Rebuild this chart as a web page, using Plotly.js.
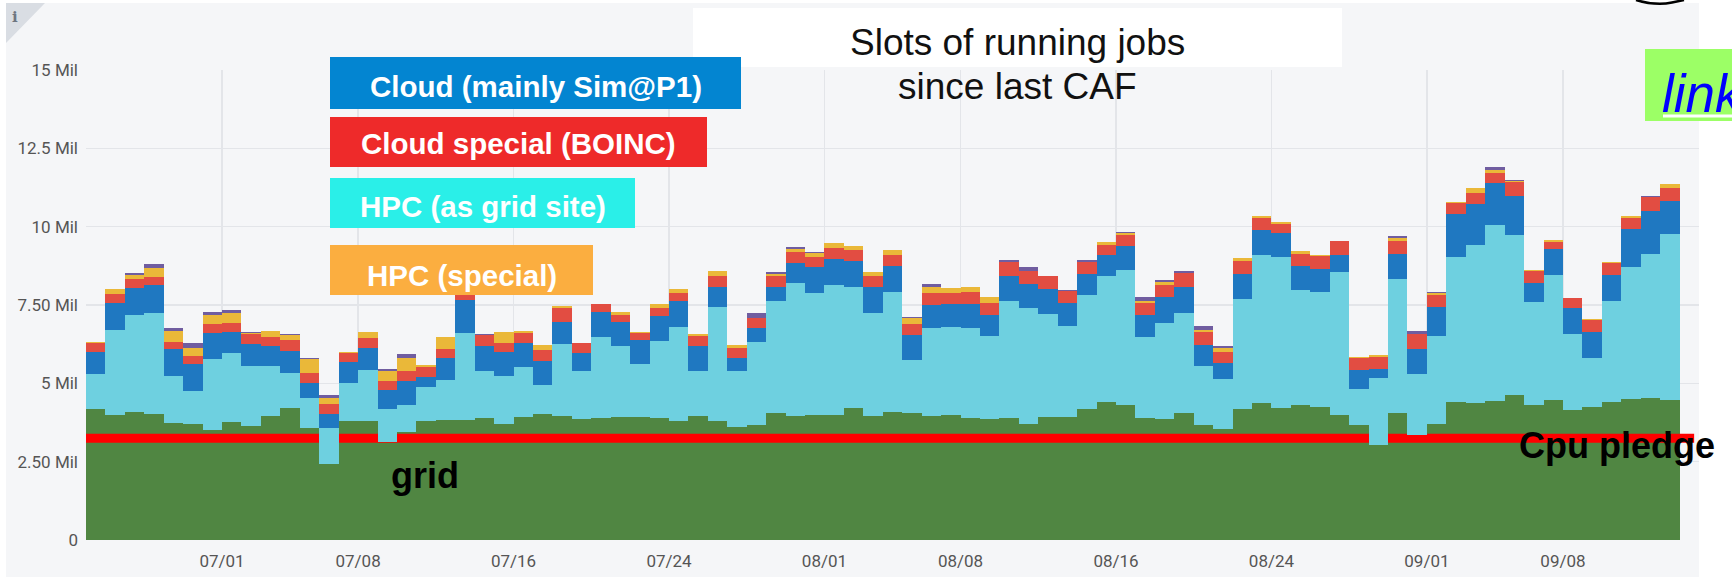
<!DOCTYPE html>
<html>
<head>
<meta charset="utf-8">
<script src="https://cdn.plot.ly/plotly-3.0.1.min.js"></script>
<style>
html,body{margin:0;padding:0;background:#ffffff;}
#chart{width:1732px;height:578px;}
</style>
</head>
<body>
<div id="chart"></div>
<script>
// ---------- data (values in millions of slots) ----------
const days = [
 '2019-06-24','2019-06-25','2019-06-26','2019-06-27','2019-06-28','2019-06-29','2019-06-30',
 '2019-07-01','2019-07-02','2019-07-03','2019-07-04','2019-07-05','2019-07-06','2019-07-07',
 '2019-07-08','2019-07-09','2019-07-10','2019-07-11','2019-07-12','2019-07-13','2019-07-14',
 '2019-07-15','2019-07-16','2019-07-17','2019-07-18','2019-07-19','2019-07-20','2019-07-21',
 '2019-07-22','2019-07-23','2019-07-24','2019-07-25','2019-07-26','2019-07-27','2019-07-28',
 '2019-07-29','2019-07-30','2019-07-31','2019-08-01','2019-08-02','2019-08-03','2019-08-04',
 '2019-08-05','2019-08-06','2019-08-07','2019-08-08','2019-08-09','2019-08-10','2019-08-11',
 '2019-08-12','2019-08-13','2019-08-14','2019-08-15','2019-08-16','2019-08-17','2019-08-18',
 '2019-08-19','2019-08-20','2019-08-21','2019-08-22','2019-08-23','2019-08-24','2019-08-25',
 '2019-08-26','2019-08-27','2019-08-28','2019-08-29','2019-08-30','2019-08-31','2019-09-01',
 '2019-09-02','2019-09-03','2019-09-04','2019-09-05','2019-09-06','2019-09-07','2019-09-08',
 '2019-09-09','2019-09-10','2019-09-11','2019-09-12','2019-09-13'
];
const grid = [
 4.18,3.99,4.08,4.02,3.74,3.70,3.52,3.76,3.65,3.95,
 4.20,3.56,2.43,3.81,3.81,3.14,3.46,3.81,3.82,3.83,
 3.89,3.70,3.93,4.01,3.95,3.85,3.90,3.91,3.94,3.90,
 3.81,3.96,3.80,3.62,3.67,4.04,3.96,3.99,3.99,4.20,
 3.96,4.07,4.06,3.96,3.99,3.90,3.85,3.90,3.70,3.91,
 3.93,4.17,4.41,4.31,3.88,3.87,4.04,3.67,3.54,4.19,
 4.36,4.20,4.31,4.26,3.99,3.67,3.03,4.04,3.35,3.70,
 4.41,4.37,4.44,4.62,4.31,4.47,4.15,4.23,4.39,4.49,
 4.52,4.47
];
const hpcGridSite = [
 1.12,2.71,3.10,3.24,1.49,1.06,2.25,2.22,1.91,1.60,
 1.12,0.96,1.13,1.19,1.62,1.04,0.85,1.06,1.29,2.77,
 1.51,1.53,1.58,0.94,2.30,1.54,2.57,2.29,1.67,2.46,
 3.00,1.44,3.65,1.78,2.66,3.60,4.23,3.88,4.15,3.89,
 3.27,3.86,1.69,2.80,2.82,2.88,2.66,3.74,3.69,3.30,
 2.90,3.65,4.03,4.31,2.61,3.07,3.19,1.88,1.59,3.49,
 4.74,4.82,3.67,3.67,4.55,1.15,2.13,4.29,1.94,2.82,
 4.63,5.05,5.61,5.11,3.28,3.99,2.41,1.57,3.24,4.21,
 4.60,5.30
];
const cloud = [
 0.69,0.87,0.87,0.87,0.86,0.86,0.85,0.65,0.69,0.65,
 0.72,0.48,0.45,0.67,0.71,0.60,0.77,0.34,0.69,1.06,
 0.79,0.78,0.79,0.77,0.72,0.59,0.80,0.77,0.78,0.80,
 0.82,0.80,0.62,0.42,0.43,0.43,0.64,0.85,0.82,0.82,
 0.83,0.80,0.78,0.74,0.72,0.75,0.67,0.80,0.78,0.79,
 0.74,0.67,0.64,0.75,0.69,0.83,0.83,0.67,0.51,0.81,
 0.78,0.77,0.75,0.71,0.55,0.59,0.29,0.80,0.81,0.93,
 1.35,1.31,1.33,1.26,0.61,0.82,0.83,0.85,0.83,1.21,
 1.38,1.06
];
const boinc = [
 0.29,0.27,0.29,0.25,0.23,0.26,0.27,0.29,0.31,0.29,
 0.34,0.32,0.32,0.29,0.30,0.28,0.32,0.32,0.30,0.30,
 0.35,0.29,0.32,0.35,0.45,0.30,0.26,0.21,0.23,0.26,
 0.25,0.31,0.34,0.30,0.32,0.36,0.35,0.32,0.35,0.35,
 0.36,0.37,0.37,0.37,0.36,0.37,0.39,0.43,0.42,0.43,
 0.37,0.39,0.34,0.37,0.37,0.37,0.45,0.41,0.37,0.42,
 0.39,0.30,0.39,0.43,0.45,0.39,0.40,0.41,0.47,0.37,
 0.37,0.34,0.32,0.45,0.40,0.22,0.32,0.37,0.39,0.37,
 0.44,0.42
];
const hpcSpecial = [
 0.05,0.16,0.11,0.30,0.35,0.25,0.30,0.32,0.06,0.18,
 0.16,0.45,0.20,0.05,0.19,0.33,0.41,0.07,0.39,0.05,
 0.00,0.33,0.05,0.14,0.04,0.00,0.00,0.11,0.02,0.11,
 0.14,0.06,0.18,0.11,0.00,0.06,0.10,0.11,0.16,0.11,
 0.14,0.16,0.18,0.19,0.14,0.17,0.19,0.00,0.00,0.00,
 0.00,0.00,0.08,0.05,0.09,0.08,0.00,0.07,0.11,0.09,
 0.07,0.07,0.09,0.02,0.00,0.05,0.05,0.09,0.00,0.07,
 0.02,0.15,0.11,0.03,0.01,0.08,0.02,0.02,0.02,0.06,
 0.00,0.11
];
const other = [
 0.00,0.00,0.08,0.12,0.10,0.16,0.10,0.10,0.02,0.00,
 0.02,0.05,0.09,0.00,0.00,0.06,0.13,0.00,0.00,0.00,
 0.05,0.00,0.00,0.00,0.00,0.00,0.00,0.00,0.00,0.00,
 0.00,0.00,0.00,0.00,0.16,0.05,0.06,0.05,0.00,0.00,
 0.00,0.00,0.05,0.11,0.00,0.00,0.00,0.07,0.11,0.00,
 0.05,0.05,0.00,0.03,0.10,0.08,0.08,0.13,0.07,0.00,
 0.00,0.00,0.00,0.00,0.00,0.00,0.00,0.07,0.11,0.04,
 0.00,0.00,0.09,0.03,0.00,0.00,0.00,0.00,0.00,0.00,
 0.05,0.00
];
const pledgeDates = ['2019-06-24 00:00', '2019-09-14 18:00'];
const pledgeValues = [3.25, 3.25];
const xTickVals = ['2019-07-01','2019-07-08','2019-07-16','2019-07-24','2019-08-01',
                   '2019-08-08','2019-08-16','2019-08-24','2019-09-01','2019-09-08'];
const xTickText = ['07/01','07/08','07/16','07/24','08/01','08/08','08/16','08/24','09/01','09/08'];
const yTickVals = [0, 2.5, 5, 7.5, 10, 12.5, 15];
const yTickText = ['0','2.50 Mil','5 Mil','7.50 Mil','10 Mil','12.5 Mil','15 Mil'];
const legendLabels = ['Cloud (mainly Sim@P1)','Cloud special (BOINC)','HPC (as grid site)','HPC (special)'];

// ---------- geometry helpers (pixel -> paper) ----------
const W = 1732, H = 578, ML = 86, MR = 33, MT = 70, MB = 38;
const PW = W - ML - MR, PH = H - MT - MB;
const px = v => (v - ML) / PW;
const py = v => (H - MB - v) / PH;

const DAY = 86400000;
function barTrace(y, color, axis, name) {
  return {
    type: 'bar', x: days, y: y, name: name, yaxis: axis,
    xperiod: DAY, xperiodalignment: 'middle', width: DAY,
    marker: {color: color, line: {width: 0}},
    hoverinfo: 'skip', showlegend: false
  };
}

const traces = [
  barTrace(grid, '#508642', 'y', 'grid'),
  {type: 'scatter', mode: 'lines', x: pledgeDates, y: pledgeValues, yaxis: 'y',
   line: {color: '#FF0000', width: 9}, hoverinfo: 'skip', showlegend: false},
  barTrace(grid, 'rgba(0,0,0,0)', 'y2', 'base'),
  barTrace(hpcGridSite, '#6ED0E0', 'y2', 'HPC (as grid site)'),
  barTrace(cloud, '#1F78C1', 'y2', 'Cloud'),
  barTrace(boinc, '#E24D42', 'y2', 'BOINC'),
  barTrace(hpcSpecial, '#EAB839', 'y2', 'HPC special'),
  barTrace(other, '#705DA0', 'y2', 'other')
];

function rect(x0, y0, x1, y1, color, layer) {
  return {type: 'rect', xref: 'paper', yref: 'paper',
          x0: px(x0), x1: px(x1), y0: py(y1), y1: py(y0),
          fillcolor: color, line: {width: 0}, layer: layer || 'above'};
}

const shapes = [
  rect(6, 3, 1699, 577, '#F5F6F8', 'below'),
  {type: 'path', xref: 'paper', yref: 'paper', layer: 'above',
   path: `M ${px(6)} ${py(3)} L ${px(45)} ${py(3)} L ${px(6)} ${py(43)} Z`,
   fillcolor: '#D9DDE3', line: {width: 0}},
  rect(693, 8, 1342, 67, '#FFFFFF'),
  rect(330, 57, 741, 109, '#0385D1'),
  rect(330, 117, 707, 167, '#EE2A2A'),
  rect(330, 178, 635, 228, '#2AEFE8'),
  rect(330, 245, 593, 295, '#FBAE40'),
  rect(1645, 49, 1745, 121, '#9CFF66'),
  {type: 'line', xref: 'paper', yref: 'paper', layer: 'above',
   x0: px(1663), x1: px(1745), y0: py(116), y1: py(116),
   line: {color: '#FFFFFF', width: 3}},
  {type: 'path', xref: 'paper', yref: 'paper', layer: 'above',
   path: `M ${px(1636)} ${py(0)} Q ${px(1656)} ${py(6)} ${px(1672)} ${py(2.5)} L ${px(1684)} ${py(0)}`,
   fillcolor: 'rgba(0,0,0,0)', line: {color: '#000000', width: 2.5}}
];

const LIB = 'Liberation Sans, Arial, sans-serif';
function ann(text, x, y, size, opts) {
  return Object.assign({
    text: text, xref: 'paper', yref: 'paper', x: px(x), y: py(y),
    xanchor: 'center', yanchor: 'middle', showarrow: false, borderpad: 0,
    font: Object.assign({family: LIB, size: size, color: '#000000'}, (opts && opts.font) || {})
  }, opts ? Object.fromEntries(Object.entries(opts).filter(([k]) => k !== 'font')) : {});
}

const annotations = [
  ann('i', 15, 17, 15, {font: {family: 'DejaVu Serif, serif', color: '#6E7580', weight: 'bold'}}),
  ann('Slots of running jobs', 1017, 42.5, 37, {font: {color: '#111111'}}),
  ann('since last CAF', 1017, 86.5, 37, {font: {color: '#111111'}}),
  ann(legendLabels[0], 535.5, 86.6, 29.5, {font: {color: '#FFFFFF', weight: 'bold'}}),
  ann(legendLabels[1], 518.5, 143.3, 29.5, {font: {color: '#FFFFFF', weight: 'bold'}}),
  ann(legendLabels[2], 483, 206.7, 29.5, {font: {color: '#FFFFFF', weight: 'bold'}}),
  ann(legendLabels[3], 461.7, 275, 29.5, {font: {color: '#FFFFFF', weight: 'bold'}}),
  ann('grid', 425, 475.5, 36, {font: {weight: 'bold'}}),
  ann('Cpu pledge', 1617, 445.8, 36, {font: {weight: 'bold'}}),
  ann('link', 1661, 93.3, 53, {xanchor: 'left', font: {color: '#0000FF', style: 'italic'}})
];

const layout = {
  width: W, height: H,
  margin: {l: ML, r: MR, t: MT, b: MB, pad: 0},
  paper_bgcolor: '#FFFFFF',
  plot_bgcolor: 'rgba(0,0,0,0)',
  barmode: 'stack', bargap: 0,
  showlegend: false,
  font: {family: 'Roboto, sans-serif', size: 17, color: '#555555'},
  xaxis: {
    type: 'date', range: ['2019-06-24', '2019-09-15'],
    tickmode: 'array', tickvals: xTickVals, ticktext: xTickText,
    showgrid: true, gridcolor: '#E3E5E9', gridwidth: 1.5,
    zeroline: false, showline: false, ticks: '',
    ticklabelstandoff: 9,
    tickfont: {family: 'Roboto, sans-serif', size: 17, color: '#555555'}
  },
  yaxis: {
    range: [0, 15], tickmode: 'array', tickvals: yTickVals, ticktext: yTickText,
    showgrid: true, gridcolor: '#E3E5E9', gridwidth: 1.5,
    zeroline: false, showline: false, ticks: '',
    ticklabelstandoff: 7,
    tickfont: {family: 'Roboto, sans-serif', size: 17, color: '#555555'}
  },
  yaxis2: {
    range: [0, 15], overlaying: 'y', visible: false, showgrid: false, zeroline: false
  },
  shapes: shapes,
  annotations: annotations
};

Plotly.newPlot('chart', traces, layout, {displayModeBar: false, staticPlot: true});
</script>
</body>
</html>
